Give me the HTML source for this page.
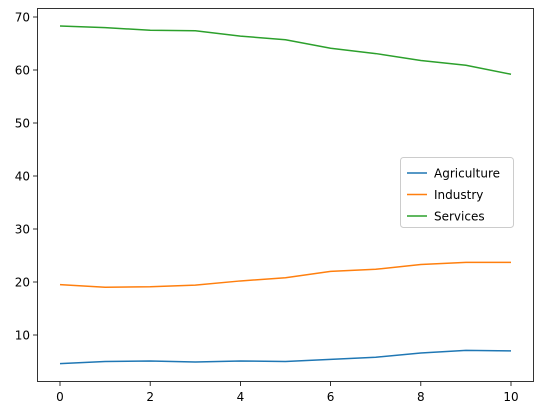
<!DOCTYPE html>
<html><head><meta charset="utf-8"><style>
body{margin:0;background:#fff;}
svg{display:block;font-family:"DejaVu Sans","Liberation Sans",sans-serif;}
</style></head><body>
<svg id="chart" width="543" height="413" viewBox="0 0 543 413" xmlns="http://www.w3.org/2000/svg">
<rect x="0" y="0" width="543" height="413" fill="#fff"/>
<g id="plot"></g>
<rect x="37.5" y="8.5" width="496" height="373" fill="none" stroke="#000" stroke-width="0.8"/>
<g>
<rect x="400.5" y="157.5" width="113" height="70" rx="3" fill="#fff" fill-opacity="0.8" stroke="#ccc"/>
<g id="legend-items"></g>
</g>
</svg>
<script>
const years=[0,1,2,3,4,5,6,7,8,9,10];
const agriculture=[4.6,5.0,5.1,4.9,5.1,5.0,5.4,5.8,6.6,7.1,7.0];
const industry=[19.5,19.0,19.1,19.4,20.2,20.8,22.0,22.4,23.3,23.7,23.7];
const services=[68.3,68.0,67.5,67.4,66.4,65.7,64.1,63.1,61.8,60.9,59.2];
const seriesNames=["Agriculture","Industry","Services"];
const xTicks=[0,2,4,6,8,10];
const yTicks=[10,20,30,40,50,60,70];
const colors=["#1f77b4","#ff7f0e","#2ca02c"];
const NS="http://www.w3.org/2000/svg";
const xs=v=>60+v*45.1;
const ys=v=>17+(70-v)*5.3;
const plot=document.getElementById('plot');
function mk(t,a,p){const e=document.createElementNS(NS,t);for(const k in a)e.setAttribute(k,a[k]);(p||plot).appendChild(e);return e;}
xTicks.forEach(t=>{
 const l=mk('line',{x1:xs(t),x2:xs(t),y1:381.5,y2:386,stroke:'#000','stroke-width':0.8});
 
 
 const tx=mk('text',{x:xs(t),y:401,'text-anchor':'middle','font-size':12,fill:'#000'});
 tx.textContent=t;
 
 
});
yTicks.forEach(t=>{
 const l=mk('line',{x1:33,x2:37.5,y1:ys(t),y2:ys(t),stroke:'#000','stroke-width':0.8});
 
 
 const tx=mk('text',{x:30,y:ys(t)+4.5,'text-anchor':'end','font-size':12,fill:'#000'});
 tx.textContent=t;
 
 
});
[agriculture,industry,services].forEach((s,i)=>{
 const p=mk('polyline',{points:s.map((v,j)=>xs(years[j])+','+ys(v)).join(' '),fill:'none',stroke:colors[i],'stroke-width':1.5});
 
 
});
const lg=document.getElementById('legend-items');
seriesNames.forEach((n,i)=>{
 const y=173+i*21.5;
 const g=mk('g',{},lg);
 
 
 mk('line',{x1:407,x2:427,y1:y,y2:y,stroke:colors[i],'stroke-width':1.5},g);
 const t=mk('text',{x:434,y:y+4.5,'font-size':12,fill:'#000'},g);
 t.textContent=n;
});
</script>
</body></html>
